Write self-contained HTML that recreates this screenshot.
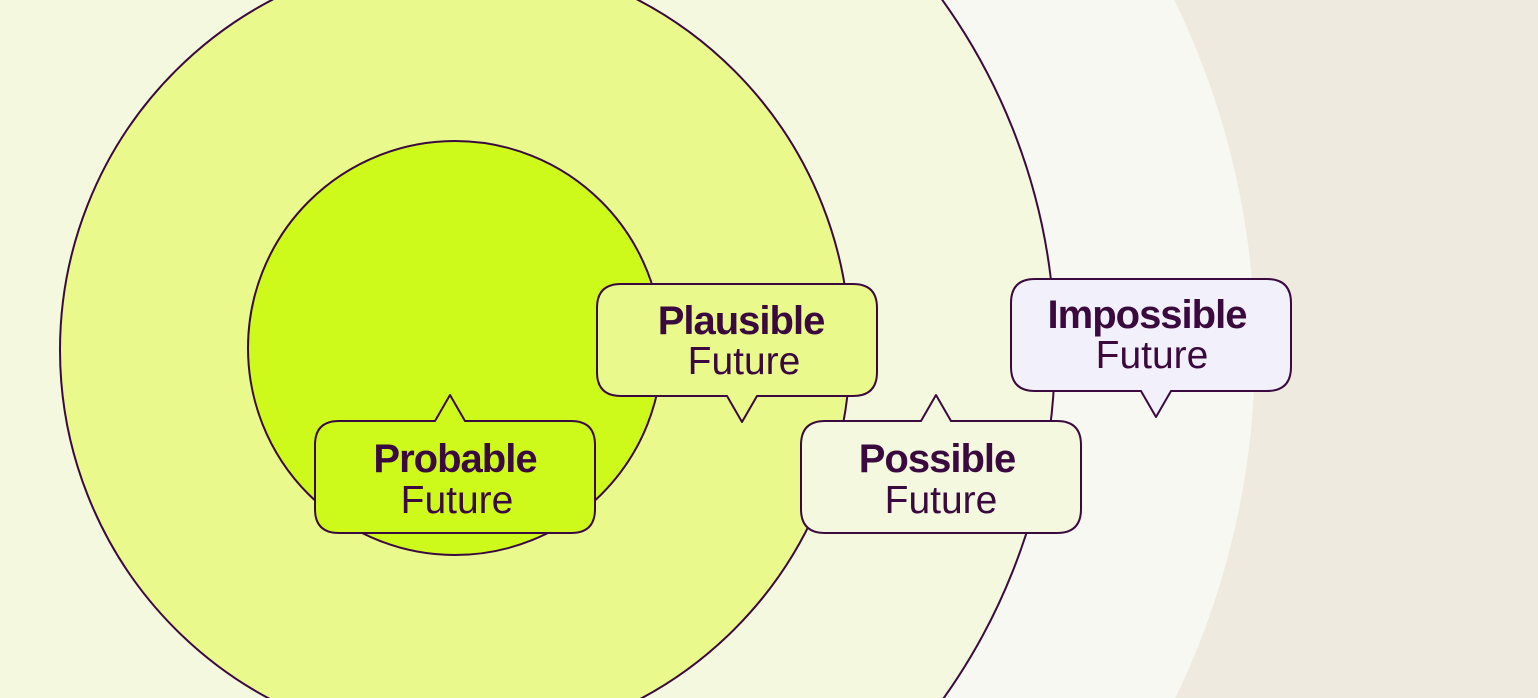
<!DOCTYPE html>
<html><head><meta charset="utf-8"><style>
html,body{margin:0;padding:0;background:#EEEADF;width:1538px;height:698px;overflow:hidden;}
svg{display:block;}
text{font-family:"Liberation Sans",sans-serif;fill:#3A0A3F;text-anchor:middle;}
.b{font-weight:bold;font-size:40px;letter-spacing:-1px;}
.r{font-size:39px;}
</style></head><body>
<svg width="1538" height="698" viewBox="0 0 1538 698" xmlns="http://www.w3.org/2000/svg">
<rect width="1538" height="698" fill="#EEEADF"/>
<circle cx="455" cy="350" r="800" fill="#F8F8F2"/>
<circle cx="455" cy="350" r="600" fill="#F4F8DF" stroke="#3A0A3F" stroke-width="2"/>
<circle cx="455" cy="350" r="395" fill="#E9F98C" stroke="#3A0A3F" stroke-width="2"/>
<circle cx="455" cy="348" r="207" fill="#CDFA1A" stroke="#3A0A3F" stroke-width="2"/>
<g stroke="#3A0A3F" stroke-width="2" stroke-linejoin="round">
<path d="M339,421 H435 L450,395 L465,421 H571 Q595,421 595,445 V509 Q595,533 571,533 H339 Q315,533 315,509 V445 Q315,421 339,421 Z" fill="#CDFA1A"/>
<path d="M621,284 H853 Q877,284 877,308 V372 Q877,396 853,396 H757 L742,422 L727,396 H621 Q597,396 597,372 V308 Q597,284 621,284 Z" fill="#E9F98C"/>
<path d="M825,421 H921 L936,395 L951,421 H1057 Q1081,421 1081,445 V509 Q1081,533 1057,533 H825 Q801,533 801,509 V445 Q801,421 825,421 Z" fill="#F4F8DF"/>
<path d="M1035,279 H1267 Q1291,279 1291,303 V367 Q1291,391 1267,391 H1171 L1156,417 L1141,391 H1035 Q1011,391 1011,367 V303 Q1011,279 1035,279 Z" fill="#F1F0FB"/>
</g>
<text class="b" x="455" y="472">Probable</text><text class="r" x="457" y="513">Future</text>
<text class="b" x="741" y="334">Plausible</text><text class="r" x="744" y="374">Future</text>
<text class="b" x="937" y="472">Possible</text><text class="r" x="941" y="513">Future</text>
<text class="b" x="1147" y="328">Impossible</text><text class="r" x="1152" y="368">Future</text>
</svg>
</body></html>
